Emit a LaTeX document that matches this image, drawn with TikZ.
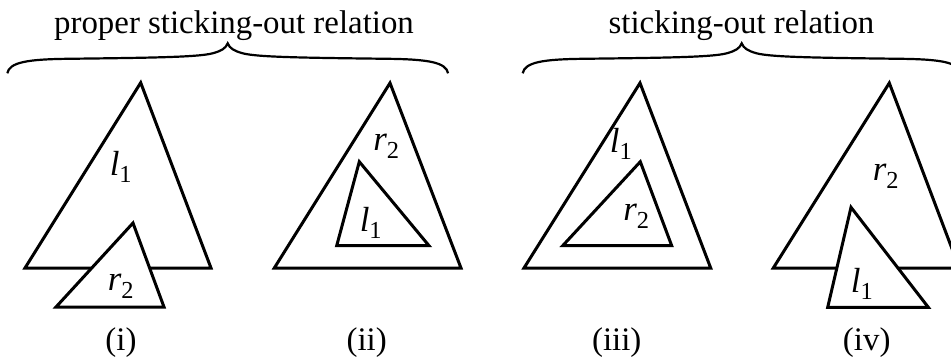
\documentclass[tikz,border=0pt]{standalone}
\usepackage{fontspec}
\setmainfont{Liberation Serif}
\tikzset{
  tri/.style={draw=black, line width=3bp, line join=miter, fill=white},
  brc/.style={draw=black, line width=2.2bp},
  lbl/.style={font=\fontsize{33}{36}\selectfont, inner sep=0pt},
  var/.style={font=\fontsize{35}{38}\selectfont, inner sep=0pt},
}
\newcommand{\Lone}{\textit{l}\textsubscript{1}}
\newcommand{\Rtwo}{\textit{r}\textsubscript{2}}
\begin{document}
\begin{tikzpicture}[x=1bp,y=-1bp]
\useasboundingbox (0,0) rectangle (951,358);
% braces
\foreach \cx/\w in {227.7/220.4, 741.7/219}{
  \begin{scope}[shift={(\cx,43.3)}, xscale=\w/220]
  \draw[brc] (-220,30) .. controls (-218,19) and (-200,16) .. (-160,15.5)
    .. controls (-80,14.5) and (-30,14) .. (-15,10)
    .. controls (-6,7.5) and (-2,5) .. (0,0)
    .. controls (2,5) and (6,7.5) .. (15,10)
    .. controls (30,14) and (80,14.5) .. (160,15.5)
    .. controls (200,16) and (218,19) .. (220,30);
  \end{scope}
}
\node[lbl, anchor=base] (t1) at (234,33.5) {proper sticking-out relation};
\node[lbl, anchor=base] (t2) at (741.5,33.5) {sticking-out relation};
% (i)
\draw[tri] (140.7,82.7) -- (25,268) -- (211,268) -- cycle;
\draw[tri] (133,223) -- (56,307) -- (164,307) -- cycle;
\node[var] (l1a) at (121,167) {\Lone};
\node[var] (r2a) at (121,286) {\Rtwo};
% (ii)
\draw[tri] (390,83) -- (274.3,268) -- (461,268) -- cycle;
\draw[tri] (359.3,161.7) -- (336.7,245.7) -- (429,245.7) -- cycle;
\node[var] (r2b) at (386.5,146) {\Rtwo};
\node[var] (l1b) at (371,223) {\Lone};
% (iii)
\draw[tri] (640,83) -- (524,268) -- (710.7,268) -- cycle;
\draw[tri] (640.3,161.7) -- (562.7,245.7) -- (671.7,245.7) -- cycle;
\node[var] (l1c) at (621,144) {\Lone};
\node[var] (r2c) at (636.5,216) {\Rtwo};
% (iv)
\draw[tri] (889.3,83) -- (773.3,268) -- (959.3,268) -- cycle;
\draw[tri] (851,207.3) -- (827.7,307.3) -- (928.3,307.3) -- cycle;
\node[var] (r2d) at (886,176) {\Rtwo};
\node[var] (l1d) at (862,284) {\Lone};
% captions
\node[lbl, anchor=base] (ci) at (121,350) {(i)};
\node[lbl, anchor=base] (cii) at (366.7,350) {(ii)};
\node[lbl, anchor=base] (ciii) at (616.7,350) {(iii)};
\node[lbl, anchor=base] (civ) at (866.7,350) {(iv)};
\end{tikzpicture}
\end{document}
